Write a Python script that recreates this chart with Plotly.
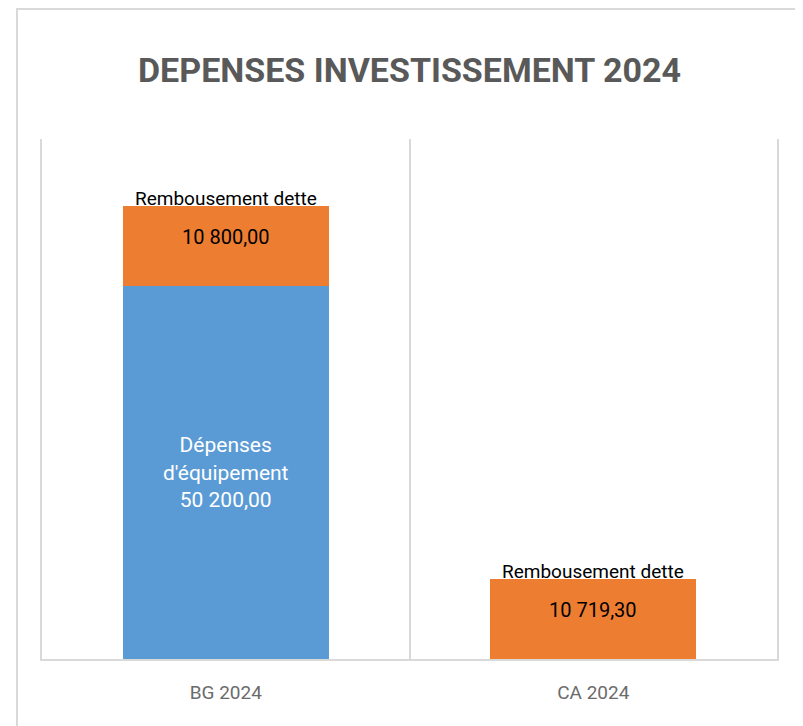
import plotly.graph_objects as go

categories = ["BG 2024", "CA 2024"]
equipement = [50200.00, None]
remboursement = [10800.00, 10719.30]
series_names = ["Dépenses d'équipement", "Rembousement dette"]
title_text = "DEPENSES INVESTISSEMENT 2024"

FONT = "Roboto, Liberation Sans, sans-serif"


def fr(v):
    return f"{v:,.2f}".replace(",", " ").replace(".", ",")


blue_text = [f"Dépenses<br>d'équipement<br>{fr(v)}" if v is not None else "" for v in equipement]

fig = go.Figure()
fig.add_trace(go.Bar(
    x=categories, y=equipement, name=series_names[0],
    marker=dict(color="#5B9BD5", line=dict(width=0)),
    text=blue_text, textposition="inside", insidetextanchor="middle",
    textfont=dict(family=FONT, size=21, color="white"),
    hoverinfo="skip",
))
fig.add_trace(go.Bar(
    x=categories, y=remboursement, name=series_names[1],
    marker=dict(color="#ED7D31", line=dict(width=0)),
    hoverinfo="skip",
))

# labels of the orange segments: series name on the top edge, value below it
for cat, e, r in zip(categories, equipement, remboursement):
    total = (e or 0) + r
    fig.add_annotation(
        x=cat, y=total, text=series_names[1], showarrow=False,
        yanchor="bottom", yshift=-6,
        font=dict(family=FONT, size=19, color="black"),
    )
    fig.add_annotation(
        x=cat, y=total, text=fr(r), showarrow=False,
        yanchor="middle", yshift=-31,
        font=dict(family=FONT, size=20, color="black"),
    )

fig.add_shape(type="rect", xref="paper", yref="paper",
              x0=-0.034, x1=1.03, y0=-0.2, y1=1.25,
              line=dict(color="#D9D9D9", width=2), layer="below")

fig.update_layout(
    width=803, height=726,
    margin=dict(l=34, r=34, t=131, b=75),
    paper_bgcolor="white", plot_bgcolor="white",
    barmode="stack", bargap=0.44, showlegend=False,
    title=dict(text=f"<b>{title_text}</b>", x=0.5, xanchor="center",
               y=0.915, yanchor="middle",
               font=dict(family=FONT, size=34, color="#595959")),
    xaxis=dict(
        type="category", range=[-0.5, 1.5], tickson="boundaries",
        showgrid=True, gridcolor="#D9D9D9", gridwidth=1.5,
        showline=True, linecolor="#D9D9D9", linewidth=2,
        ticks="", tickfont=dict(family=FONT, size=19, color="#6B6B6B"),
        ticklabelstandoff=15,
    ),
    yaxis=dict(
        range=[0, 70000], showgrid=False, showticklabels=False,
        showline=True, mirror=True, linecolor="#D9D9D9", linewidth=1.5,
        zeroline=False, ticks="",
    ),
)

fig.write_html("out.html")
